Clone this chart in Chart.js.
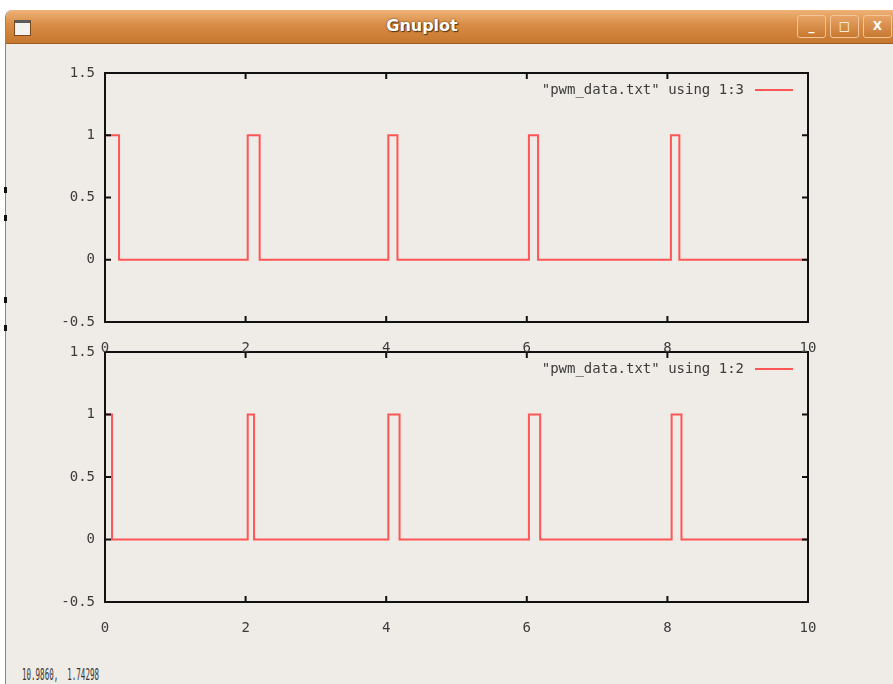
<!DOCTYPE html>
<html lang="en">
<head>
<meta charset="UTF-8">
<title>Gnuplot</title>
<style>
body {
    margin: 0;
    padding: 0;
    width: 893px;
    height: 684px;
    overflow: hidden;
    background: #ffffff;
    font-family: "DejaVu Sans", sans-serif;
}
.window {
    position: absolute;
    left: 5px;
    top: 10px;
    width: 900px;
    height: 690px;
    background: #efebe7;
    border-left: 1px solid #8a8680;
    border-top-left-radius: 7px;
    overflow: hidden;
}
.titlebar {
    position: absolute;
    left: 0;
    top: 0;
    width: 100%;
    height: 33px;
    background: linear-gradient(#eeb277, #d88c45 45%, #c7772f);
    border-bottom: 1px solid #9c5d22;
}
.title {
    position: absolute;
    left: 0;
    width: 832px;
    top: 6px;
    text-align: center;
    color: #ffffff;
    font-weight: bold;
    font-size: 16px;
    text-shadow: 0 0 2px #5a3410, 1px 1px 1px #5a3410;
}
.icon {
    position: absolute;
    left: 8px;
    top: 10px;
    width: 15px;
    height: 12px;
    background: #f4f2ee;
    border: 1px solid #7a4a1c;
    border-top: 3px solid #5c5c5c;
}
.btn {
    position: absolute;
    top: 5px;
    width: 27px;
    height: 21px;
    border: 1px solid #f3c597;
    border-radius: 3px;
    background: linear-gradient(#e7a466, #c8782f);
    color: #ffffff;
    font-size: 12px;
    font-weight: bold;
    text-align: center;
    line-height: 20px;
}
.mark {
    position: absolute;
    left: 4px;
    width: 3px;
    height: 6px;
    background: #111;
}
.status {
    position: absolute;
    left: 22px;
    top: 665px;
    font-family: "DejaVu Sans Mono", monospace;
    font-size: 16px;
    color: #333;
    transform: scaleX(0.47);
    transform-origin: left top;
    white-space: pre;
}
canvas {
    position: absolute;
}
#topChart { left: 10px; top: 60px; }
#bottomChart { left: 10px; top: 340px; }
</style>
<script src="https://cdn.jsdelivr.net/npm/chart.js"></script>
</head>
<body>
    <div class="window">
        <div class="titlebar">
            <div class="icon"></div>
            <div class="title">Gnuplot</div>
            <div class="btn" style="left:791px;">_</div>
            <div class="btn" style="left:824px;">□</div>
            <div class="btn" style="left:857px;">X</div>
        </div>
    </div>
    <div class="mark" style="top:187px;"></div>
    <div class="mark" style="top:215px;"></div>
    <div class="mark" style="top:297px;"></div>
    <div class="mark" style="top:325px;"></div>

    <canvas id="bottomChart" width="830" height="320"></canvas>
    <canvas id="topChart" width="830" height="300"></canvas>

    <div class="status">10.9860,  1.74298</div>

<script>
// pwm_data.txt column 3 (top plot)
const topTimes = [0, 0.2, 2.03, 2.2, 4.03, 4.16, 6.03, 6.16, 8.05, 8.17, 10];
const topLevels = [1, 0, 1, 0, 1, 0, 1, 0, 1, 0, 0];
// pwm_data.txt column 2 (bottom plot)
const bottomTimes = [0, 0.1, 2.03, 2.12, 4.03, 4.19, 6.03, 6.19, 8.06, 8.2, 10];
const bottomLevels = [1, 0, 1, 0, 1, 0, 1, 0, 1, 0, 0];

const xTicks = [0, 2, 4, 6, 8, 10];
const yTicks = [-0.5, 0, 0.5, 1, 1.5];

const labelFont = { family: 'DejaVu Sans Mono', size: 14 };
const labelColor = '#3c3c3c';
const lineColor = 'rgba(255, 70, 70, 0.9)';

// gnuplot style frame: border, inward ticks on all sides, key at top right
const gnuplotFrame = {
    id: 'gnuplotFrame',
    afterDraw(chart) {
        const ctx = chart.ctx;
        const a = chart.chartArea;
        const xs = chart.scales.x;
        const ys = chart.scales.y;
        ctx.save();
        ctx.strokeStyle = '#111';
        ctx.lineWidth = 2;
        ctx.beginPath();
        xTicks.forEach(v => {
            const px = xs.getPixelForValue(v);
            ctx.moveTo(px, a.bottom); ctx.lineTo(px, a.bottom - 6);
            ctx.moveTo(px, a.top); ctx.lineTo(px, a.top + 6);
        });
        yTicks.forEach(v => {
            const py = ys.getPixelForValue(v);
            ctx.moveTo(a.left, py); ctx.lineTo(a.left + 6, py);
            ctx.moveTo(a.right, py); ctx.lineTo(a.right - 6, py);
        });
        ctx.stroke();
        ctx.strokeRect(a.left, a.top, a.right - a.left, a.bottom - a.top);

        // key
        const ds = chart.data.datasets[0];
        const ky = a.top + 17;
        ctx.font = '14px "DejaVu Sans Mono"';
        ctx.fillStyle = labelColor;
        ctx.textAlign = 'right';
        ctx.textBaseline = 'middle';
        ctx.fillText(ds.label, a.right - 64, ky);
        ctx.strokeStyle = lineColor;
        ctx.lineWidth = 2;
        ctx.beginPath();
        ctx.moveTo(a.right - 53, ky);
        ctx.lineTo(a.right - 15, ky);
        ctx.stroke();
        ctx.restore();
    }
};

function makeChart(id, label, times, levels, padTop, axisHeight) {
    const ctx = document.getElementById(id).getContext('2d');
    return new Chart(ctx, {
        type: 'line',
        data: {
            datasets: [{
                label: label,
                data: times.map((t, i) => ({ x: t, y: levels[i] })),
                borderColor: lineColor,
                borderWidth: 2,
                pointRadius: 0,
                stepped: true,
                fill: false
            }]
        },
        options: {
            responsive: false,
            animation: false,
            devicePixelRatio: 1,
            layout: { padding: { top: padTop, right: 32, left: 0, bottom: 0 } },
            plugins: {
                legend: { display: false },
                tooltip: { enabled: false }
            },
            scales: {
                x: {
                    type: 'linear',
                    min: 0,
                    max: 10,
                    afterFit: s => { s.height = axisHeight; s.paddingLeft = 0; s.paddingRight = 0; },
                    afterBuildTicks: s => { s.ticks = xTicks.map(v => ({ value: v })); },
                    grid: { display: false, drawTicks: false },
                    border: { display: false },
                    ticks: { font: labelFont, color: labelColor, padding: 18, maxRotation: 0 }
                },
                y: {
                    min: -0.5,
                    max: 1.5,
                    afterFit: s => { s.width = 95; s.paddingTop = 0; s.paddingBottom = 0; },
                    afterBuildTicks: s => { s.ticks = yTicks.map(v => ({ value: v })); },
                    grid: { display: false, drawTicks: false },
                    border: { display: false },
                    ticks: { font: labelFont, color: labelColor, padding: 10, callback: v => String(v) }
                }
            }
        },
        plugins: [gnuplotFrame]
    });
}

makeChart('bottomChart', '"pwm_data.txt" using 1:2', bottomTimes, bottomLevels, 12, 58);
makeChart('topChart', '"pwm_data.txt" using 1:3', topTimes, topLevels, 13, 38);
</script>
</body>
</html>
